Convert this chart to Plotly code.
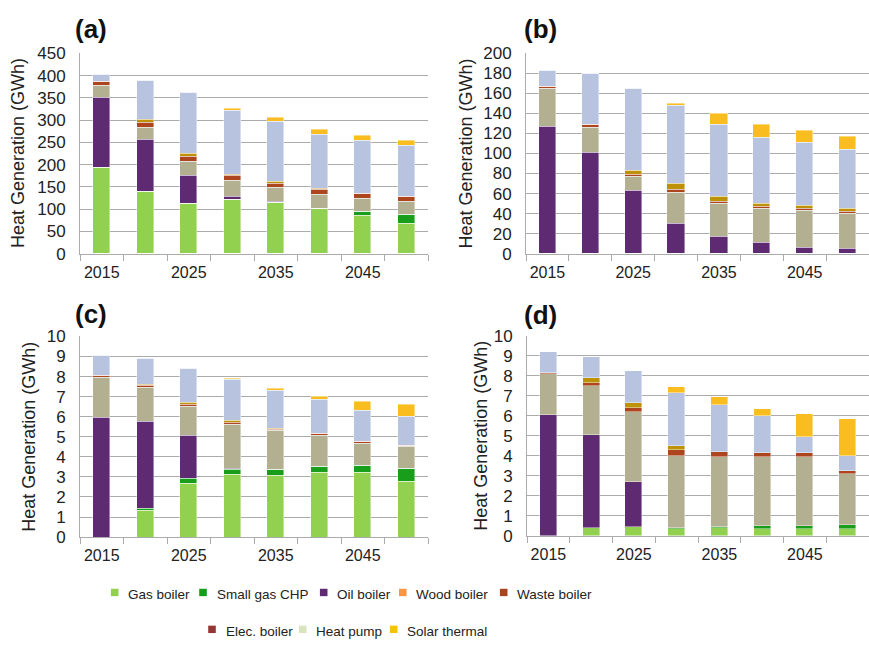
import plotly.graph_objects as go

years = [2015, 2020, 2025, 2030, 2035, 2040, 2045, 2050]
tick_years = [2015, 2025, 2035, 2045]
series_names = ["Gas boiler", "Small gas CHP", "Oil boiler", "Wood boiler",
                "Waste boiler", "Elec. boiler", "Heat pump", "Solar thermal"]

# Panel (a) values, GWh (stack order bottom -> top)
a_gas = [194, 141, 114, 123, 115, 102, 87, 68]
a_chp = [0, 0, 0, 0, 0, 0, 7, 20]
a_oil = [158, 115, 63, 6, 3.5, 0, 0, 0]
a_wood = [25, 28, 31, 35, 30.5, 32, 31, 29]
a_waste = [10, 11, 10, 11, 10, 10, 10, 11]
a_elec = [0.5, 6, 7, 4, 3, 2, 1.5, 0.5]
a_hp = [16, 89, 137, 143, 135, 122, 118, 115]
a_solar = [0, 0, 0, 5, 10, 12, 12, 12]

# Panel (b)
b_gas = [0, 0, 0, 0, 0, 0, 0, 0]
b_chp = [0, 0, 0, 0, 0, 0, 0, 0]
b_oil = [127, 101, 63.5, 30.5, 17, 11, 6.5, 5]
b_wood = [38, 25, 13.5, 31, 33, 34, 36.5, 35]
b_waste = [2.5, 3, 2.5, 2.5, 2.5, 2.5, 2.5, 2.5]
b_elec = [0, 0, 4, 6, 4.5, 3, 2.5, 2.5]
b_hp = [16, 51, 81.5, 78, 72, 66, 63.5, 59.5]
b_solar = [0, 0, 0, 2, 11.5, 12.5, 11.5, 13]

# Panel (c)
c_gas = [0, 1.32, 2.68, 3.1, 3.06, 3.21, 3.21, 2.77]
c_chp = [0, 0.13, 0.26, 0.27, 0.31, 0.32, 0.35, 0.63]
c_oil = [5.95, 4.3, 2.14, 0.07, 0, 0, 0, 0]
c_wood = [2.0, 1.72, 1.44, 2.17, 1.95, 1.53, 1.12, 1.1]
c_waste = [0.1, 0.08, 0.08, 0.1, 0.07, 0.09, 0.09, 0.08]
c_elec = [0, 0.05, 0.09, 0.1, 0.04, 0.02, 0.01, 0]
c_hp = [1.0, 1.3, 1.73, 2.06, 1.86, 1.69, 1.55, 1.42]
c_solar = [0, 0, 0, 0.03, 0.13, 0.16, 0.44, 0.6]

# Panel (d)
d_gas = [0, 0.39, 0.47, 0.37, 0.39, 0.37, 0.37, 0.37]
d_chp = [0, 0.03, 0, 0.05, 0.05, 0.12, 0.13, 0.16]
d_oil = [6.07, 4.61, 2.23, 0, 0, 0, 0, 0]
d_wood = [2.02, 2.49, 3.5, 3.58, 3.49, 3.47, 3.46, 2.58]
d_waste = [0.07, 0.15, 0.22, 0.32, 0.29, 0.21, 0.21, 0.14]
d_elec = [0, 0.24, 0.23, 0.16, 0, 0, 0, 0]
d_hp = [1.06, 1.02, 1.6, 2.67, 2.35, 1.83, 0.77, 0.76]
d_solar = [0, 0, 0, 0.31, 0.36, 0.34, 1.16, 1.82]

panels = [
    [a_gas, a_chp, a_oil, a_wood, a_waste, a_elec, a_hp, a_solar],
    [b_gas, b_chp, b_oil, b_wood, b_waste, b_elec, b_hp, b_solar],
    [c_gas, c_chp, c_oil, c_wood, c_waste, c_elec, c_hp, c_solar],
    [d_gas, d_chp, d_oil, d_wood, d_waste, d_elec, d_hp, d_solar],
]
panel_labels = ["(a)", "(b)", "(c)", "(d)"]
y_ranges = [[0, 450], [0, 200], [0, 10], [0, 10]]
y_dticks = [50, 20, 1, 1]

bar_colors = ["#92D050", "#189E1A", "#5E2A72", "#B2B090",
              "#AD461E", "#BD9208", "#B8C4DF", "#FABD1F"]
legend_colors = ["#92D050", "#129E1A", "#5E2A72", "#F79646",
                 "#A8451E", "#963634", "#D7E4BD", "#F5C400"]

W, H = 869, 651
# plot areas in px: (left, right, top, bottom)
areas = [(80, 428, 45.7, 252), (526, 869, 45.7, 252),
         (80, 428, 337.3, 544), (527, 869, 336.7, 542.7)]
ytitle_x = [17.5, 466, 29, 481]
label_pos = [(73, 21), (522, 21), (73, 314), (522, 315)]
# legend layout (px): marker centre x, row centre y
legend_x = [114.7, 203, 323.7, 402.8, 503.7, 212, 302.7, 393.7]
legend_y = [602, 602, 602, 602, 602, 640, 640, 640]

fig = go.Figure()
font_family = "Liberation Sans, Arial, sans-serif"
grid = "#ABABAB"

for p, data in enumerate(panels):
    ax = "" if p == 0 else str(p + 1)
    for s, vals in enumerate(data):
        fig.add_trace(go.Bar(
            x=years, y=vals, name=series_names[s],
            marker=dict(color=bar_colors[s], line=dict(color="rgba(255,255,255,0.7)", width=0.6)),
            width=2.0, showlegend=False,
            xaxis="x" + ax, yaxis="y" + ax,
        ))
    l, r, t, b = areas[p]
    fig.update_layout({
        "xaxis" + ax: dict(
            domain=[l / W, min(r / W, 1.0)], anchor="y" + ax,
            range=[2012.5, 2052.5], tickmode="array", tickvals=tick_years,
            ticktext=[str(v) for v in tick_years],
            showgrid=False, zeroline=False, showline=True, linecolor=grid, linewidth=1,
            ticks="", ticklabelstandoff=4,
            tickfont=dict(size=16, color="#222", family=font_family),
            minor=dict(tickmode="linear", tick0=2012.5, dtick=5, ticks="outside",
                       ticklen=6, tickcolor=grid, tickwidth=1, showgrid=False),
        ),
        "yaxis" + ax: dict(
            domain=[1 - b / H, 1 - t / H], anchor="x" + ax,
            range=y_ranges[p], dtick=y_dticks[p], tick0=0,
            showgrid=True, gridcolor=grid, gridwidth=1, zeroline=False,
            showline=True, linecolor=grid, linewidth=1,
            ticks="", ticklabelstandoff=10,
            tickfont=dict(size=17, color="#222", family=font_family),
        ),
    })
    fig.add_annotation(x=ytitle_x[p] / W, y=1 - (t + b) / 2 / H, xref="paper", yref="paper",
                       text="Heat Generation (GWh)", textangle=-90, showarrow=False,
                       font=dict(size=18, color="#222", family=font_family),
                       xanchor="center", yanchor="middle")
    lx, ly = label_pos[p]
    fig.add_annotation(x=lx / W, y=1 - ly / H, xref="paper", yref="paper",
                       text="<b>" + panel_labels[p] + "</b>", showarrow=False,
                       font=dict(size=26, color="#111", family=font_family),
                       xanchor="left", yanchor="middle")

# legend: colour swatch + label for each series (two rows)
half = 3.8
for s, name in enumerate(series_names):
    cx, cy = legend_x[s], legend_y[s]
    fig.add_shape(type="rect", xref="paper", yref="paper",
                  x0=(cx - half) / W, x1=(cx + half) / W,
                  y0=1 - (cy - 1 + half) / H, y1=1 - (cy - 1 - half) / H,
                  fillcolor=legend_colors[s], line=dict(width=0))
    fig.add_annotation(x=(cx + 11.5) / W, y=1 - (cy + 1) / H, xref="paper", yref="paper",
                       text=name, showarrow=False, xanchor="left", yanchor="middle",
                       font=dict(size=13.5, color="#222", family=font_family))

fig.update_layout(
    width=W, height=H, margin=dict(l=0, r=0, t=0, b=0),
    paper_bgcolor="white", plot_bgcolor="white",
    barmode="stack", bargap=0, showlegend=False,
    font=dict(family=font_family),
)

fig.write_html("out.html")
